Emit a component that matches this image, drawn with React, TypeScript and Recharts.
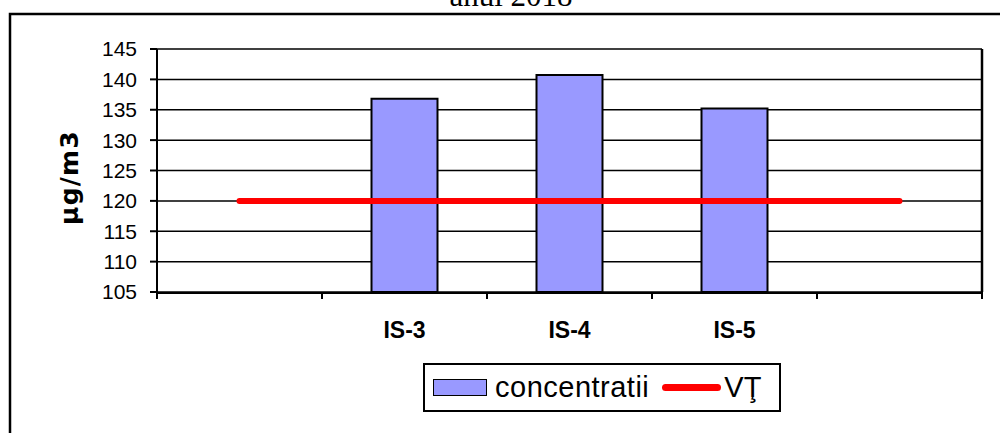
import React from 'react';
import { ComposedChart, Bar, Line, XAxis, YAxis, CartesianGrid, Legend } from 'recharts';

const categories = ['', 'IS-3', 'IS-4', 'IS-5', ''];
const concentratii = [null, 136.8, 140.7, 135.2, null];
const vt = [120, 120, 120, 120, 120];
const yTicks = [105, 110, 115, 120, 125, 130, 135, 140, 145];
const boundaryTicks = [0, 1, 2, 3, 4, 5];
const title = 'anul 2018';
const yLabel = 'µg/m3';

// slot centre of each category on the boundary-tick axis (category i spans [i, i+1])
const data = categories.map((c, i) => ({ name: c, slot: i + 0.5, concentratii: concentratii[i], VT: vt[i] }));

const LegendBox = () => (
  <div
    style={{
      boxSizing: 'border-box',
      width: 358,
      height: 49,
      border: '2px solid #000',
      background: '#fff',
      display: 'flex',
      alignItems: 'center',
      paddingLeft: 8,
      fontFamily: '"Liberation Sans", Arial, sans-serif',
      fontSize: 29,
      color: '#000',
    }}
  >
    <div style={{ boxSizing: 'border-box', width: 54, height: 17, background: '#9999FF', border: '1.5px solid #000' }} />
    <span style={{ marginLeft: 8, letterSpacing: 0.5, lineHeight: '29px' }}>concentratii</span>
    <div style={{ marginLeft: 13, width: 59, height: 7, borderRadius: 4, background: '#FF0000' }} />
    <span style={{ marginLeft: 3, lineHeight: '29px' }}>VŢ</span>
  </div>
);

const YLabel = (props: any) => {
  const vb = props.viewBox || {};
  const x = (vb.x || 0) + 78;
  const y = (vb.y || 0) + (vb.height || 0) / 2 + 7;
  return (
    <text
      x={x}
      y={y}
      transform={`rotate(-90, ${x}, ${y})`}
      textAnchor="middle"
      fontFamily='"DejaVu Sans", sans-serif'
      fontWeight="bold"
      fontSize={25}
      letterSpacing={1.2}
      fill="#000"
    >
      {yLabel}
    </text>
  );
};

export default function App() {
  return (
    <div style={{ position: 'absolute', left: 0, top: 0, width: 1000, height: 433, overflow: 'hidden', background: '#fff' }}>
      <svg width={1000} height={433} style={{ position: 'absolute', left: 0, top: 0 }}>
        <rect x={10} y={14} width={1200} height={1000} fill="none" stroke="#000" strokeWidth={2.5} />
        <text x={511} y={5.5} textAnchor="middle" fontFamily='"Liberation Serif", "Times New Roman", serif' fontSize={31} fill="#000">
          {title}
        </text>
      </svg>
      <div style={{ position: 'absolute', left: 0, top: 0 }}>
        <ComposedChart width={1000} height={433} data={data} margin={{ top: 49, right: 17, left: 0, bottom: 80 }} barCategoryGap="30%">
          <CartesianGrid xAxisId="b" yAxisId="left" horizontal vertical={false} stroke="#000" strokeWidth={1.5} />
          <XAxis
            xAxisId="a"
            dataKey="slot"
            type="number"
            domain={[0, 5]}
            allowDataOverflow
            ticks={boundaryTicks}
            tickCount={6}
            height={1}
            axisLine={false}
            tickLine={{ stroke: '#000', strokeWidth: 2 }}
            tickSize={7}
            tickFormatter={() => ''}
            interval={0}
          />
          <XAxis
            xAxisId="b"
            dataKey="name"
            height={60}
            axisLine={{ stroke: '#000', strokeWidth: 2 }}
            tickLine={false}
            tickSize={7}
            tickMargin={22}
            interval={0}
            tick={{ fill: '#000', fontFamily: '"Liberation Sans", Arial, sans-serif', fontWeight: 'bold', fontSize: 23 }}
          />
          <YAxis
            yAxisId="left"
            domain={[105, 145]}
            ticks={yTicks}
            width={157}
            interval={0}
            axisLine={{ stroke: '#000', strokeWidth: 2 }}
            tickLine={{ stroke: '#000', strokeWidth: 2 }}
            tickSize={7}
            tickMargin={13}
            tick={{ fill: '#000', fontFamily: '"Liberation Sans", Arial, sans-serif', fontSize: 21 }}
            label={<YLabel />}
          />
          <YAxis
            yAxisId="right"
            orientation="right"
            domain={[105, 145]}
            width={1}
            tick={false}
            tickLine={false}
            axisLine={{ stroke: '#000', strokeWidth: 2.5 }}
          />
          <Bar
            xAxisId="b"
            yAxisId="left"
            dataKey="concentratii"
            name="concentratii"
            fill="#9999FF"
            stroke="#000"
            strokeWidth={2}
            isAnimationActive={false}
          />
          <Line
            xAxisId="b"
            yAxisId="left"
            dataKey="VT"
            name="VŢ"
            stroke="#FF0000"
            strokeWidth={6}
            strokeLinecap="round"
            dot={false}
            activeDot={false}
            isAnimationActive={false}
          />
          <Legend
            layout="horizontal"
            verticalAlign="middle"
            align="center"
            content={() => <LegendBox />}
            wrapperStyle={{ position: 'absolute', left: 423, top: 363, width: 358, height: 49 }}
          />
        </ComposedChart>
      </div>
    </div>
  );
}
